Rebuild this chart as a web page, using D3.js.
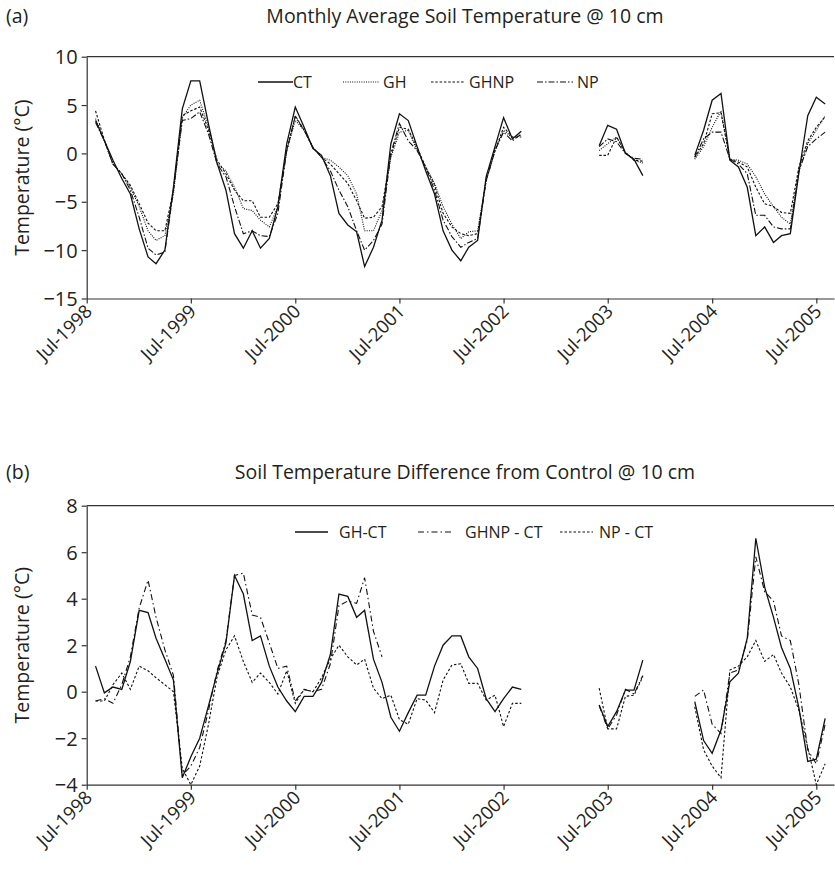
<!DOCTYPE html>
<html>
<head>
<meta charset="utf-8">
<script src="https://cdn.jsdelivr.net/npm/d3@7"></script>
<style>
body { margin: 0; background: #fff; }
text { font-family: "Open Sans", Lato, sans-serif; fill: #231f20; }
</style>
</head>
<body>
<svg id="chart" width="835" height="872"></svg>
<script>
var N = null;

// months Aug-1998 .. Aug-2005, null = no data
var months = d3.timeMonth.range(new Date(1998, 7, 1), new Date(2005, 8, 1));
var julys = d3.timeMonth.range(new Date(1998, 6, 1), new Date(2005, 7, 1), 12);

// (a) monthly average soil temperature
var ct = [3.4,1.3,-0.7,-2.6,-4.2,-7.8,-10.7,-11.4,-10.0,-3.5, 4.6,7.5,7.5,3.0,-1.0,-3.8,-8.3,-9.8,-8.0,-9.8,
  -8.8,-5.5,1.0,4.8,2.7,0.5,-0.2,-2.3,-6.2,-7.4, -8.1,-11.7,-9.7,-6.9,1.0,4.1,3.4,0.7,-1.8,-4.2,
  -8.0,-10.0,-11.1,-9.7,-9.0,-2.4,0.7,3.7,1.5,2.3, N,N,N,N,N,N,N,N,
  0.8,2.9,2.5,0.0,-0.6,-2.3, N,N,N,N,N,
  -0.2,2.4,5.5,6.2,-0.7,-1.4,-3.5,-8.5,-7.6,-9.2,-8.5,-8.3,-2.0,3.9,5.8,5.1];
var gh = [3.6,1.3,-1.1,-2.1,-3.5,-5.5,-8.0,-9.0,-8.5,-4.2, 3.7,5.0,5.5,2.7,-1.1,-1.8,-3.5,-5.7,-5.9,-6.9,
  -7.6,-5.5,0.3,3.4,2.4,0.6,-0.4,-0.7,-1.4,-2.3, -4.2,-8.0,-8.0,-5.9,-0.4,2.2,2.4,0.3,-1.4,-3.1,
  -5.5,-7.3,-8.8,-8.1,-8.0,-2.8,0.3,2.4,1.6,1.9, N,N,N,N,N,N,N,N,
  0.3,1.0,1.7,0.1,-0.7,-1.0, N,N,N,N,N,
  -0.6,0.7,2.7,4.4,-0.6,-0.7,-1.1,-2.4,-4.2,-5.5,-6.6,-7.3,-1.8,1.0,2.4,3.9];
var ghnp = [4.4,1.4,-1.1,-2.1,-3.3,-5.2,-7.2,-8.0,-8.0,-3.8, 3.9,4.4,4.8,2.4,-0.7,-2.1,-3.8,-4.9,-4.9,-6.6,
  -6.6,-5.2,0.3,3.9,2.4,0.6,-0.4,-1.1,-2.1,-3.1, -4.9,-6.7,-6.6,-5.5,-0.2,2.7,2.5,0.6,-1.4,-3.3,
  -6.2,-7.6,-8.3,-8.5,-8.3,-2.8,0.3,2.7,1.7,1.7, N,N,N,N,N,N,N,N,
  -0.2,-0.2,1.7,0.1,-0.7,-0.8, N,N,N,N,N,
  -0.4,1.0,4.1,4.2,-0.6,-0.9,-1.4,-3.5,-5.2,-5.5,-6.1,-6.2,-1.4,1.3,2.7,3.8];
var np = [3.2,1.3,-1.1,-2.1,-3.8,-6.6,-9.8,-10.5,-10.2,-3.8, 3.4,3.6,4.3,2.0,-1.1,-2.4,-5.5,-8.3,-8.0,-8.5,
  -8.6,-6.2,0.3,3.8,2.4,0.6,-0.4,-1.8,-3.8,-5.5, -8.0,-10.0,-9.0,-7.3,0.0,3.1,1.3,0.3,-1.4,-3.8,
  -6.9,-8.6,-9.7,-9.2,-8.8,-2.8,0.3,2.2,1.3,2.0, N,N,N,N,N,N,N,N,
  0.7,1.5,1.2,0.0,-0.5,-0.6, N,N,N,N,N,
  -0.4,1.5,2.2,2.2,-0.6,-1.1,-2.1,-6.4,-6.4,-7.6,-7.8,-7.8,-1.8,0.7,1.5,2.2];

// (b) differences from control
var ghCt = [1.1,-0.05,0.2,0.1,1.3,3.5,3.4,2.3,1.4,0.5, -3.7,-2.8,-2.0,-0.6,0.8,2.1,5.0,4.2,2.2,2.4,
  1.1,0.2,-0.4,-0.86,-0.2,-0.2,0.4,1.6,4.2,4.1, 3.2,3.5,1.4,0.4,-1.1,-1.7,-0.9,-0.15,-0.15,1.1,
  2.0,2.4,2.4,1.5,1.0,-0.3,-0.86,-0.3,0.2,0.1, N,N,N,N,N,N,N,N,
  -0.57,-1.5,-0.86,0.07,0.07,1.36, N,N,N,N,N,
  -0.43,-2.1,-2.65,-1.65,0.43,0.8,2.3,6.6,4.5,3.2,1.9,1.0,-0.7,-3.0,-2.9,-1.15];
var ghnpCt = [-0.4,-0.3,-0.5,0.3,1.5,3.6,4.8,3.2,1.8,0.7, -3.6,-3.2,-2.4,-0.8,0.9,2.2,5.0,5.1,3.3,3.2,
  2.1,1.0,1.1,-0.4,0.1,0.0,0.1,1.2,3.7,3.9, 3.8,4.9,2.6,1.5,N,N,N,N,N,N,
  N,N,N,N,N,N,N,N,N,N, N,N,N,N,N,N,N,N,
  -0.6,-1.6,-1.0,0.1,-0.1,0.7, N,N,N,N,N,
  -0.2,0.07,-1.4,-1.8,0.8,0.93,2.2,5.8,4.3,3.9,2.4,2.2,0.3,-2.5,-3.1,-1.4];
var npCt = [-0.4,-0.4,0.3,0.8,0.1,1.1,0.9,0.6,0.3,0.0, -3.3,-4.0,-3.2,-1.4,0.65,1.8,2.4,1.3,0.4,0.8,
  0.4,-0.1,0.9,-0.5,0.1,0.0,0.6,1.4,2.0,1.5, 1.15,1.4,0.15,-0.3,-0.15,-1.2,-1.4,-0.3,-0.36,-0.9,
  0.5,1.15,1.2,0.36,0.36,-0.36,-0.15,-1.5,-0.5,-0.5, N,N,N,N,N,N,N,N,
  0.15,-1.6,-1.6,-0.2,-0.15,0.65, N,N,N,N,N,
  -0.65,-2.5,-3.2,-3.7,0.93,1.1,1.5,2.2,1.3,1.6,0.8,0.2,-0.8,-2.4,-4.0,-3.1];

var svg = d3.select("#chart");
var left = 86.7, right = 834;

var x = d3.scaleTime()
    .domain([new Date(1998, 6, 1), new Date(2005, 8, 1)])
    .range([left, right]);

function fmtNum(d) { return d < 0 ? "\u2212" + Math.abs(d) : "" + d; }

function drawPanel(p) {
    var y = d3.scaleLinear().domain(p.domain).range([p.bottom, p.top]);
    var g = svg.append("g");

    g.append("text").attr("x", 6).attr("y", p.titleY).style("font-size", "19.5px").text(p.tag);
    g.append("text").attr("x", 465).attr("y", p.titleY).attr("text-anchor", "middle")
        .style("font-size", "19.5px").text(p.title);

    // top border
    g.append("line").attr("x1", left).attr("x2", right).attr("y1", p.top).attr("y2", p.top)
        .attr("stroke", "#333").attr("stroke-width", 1.2);

    var yAxis = g.append("g").attr("transform", "translate(" + left + ",0)")
        .call(d3.axisLeft(y).tickValues(p.ticks).tickSize(5).tickSizeOuter(0).tickFormat(fmtNum));
    yAxis.selectAll("text").style("font-size", "20px").attr("x", -9).attr("dy", "0.36em");

    var xAxis = g.append("g").attr("transform", "translate(0," + p.bottom + ")")
        .call(d3.axisBottom(x).tickValues(julys).tickSize(5).tickSizeOuter(0)
            .tickFormat(d3.timeFormat("%b-%Y")));
    xAxis.selectAll("text")
        .style("font-size", "18.5px")
        .attr("text-anchor", "end")
        .attr("y", 0)
        .attr("dy", 0)
        .attr("transform", "translate(6,14) rotate(-45)");

    g.selectAll(".domain, .tick line").attr("stroke", "#333").attr("stroke-width", 1.2);

    g.append("text")
        .attr("transform", "translate(" + 29 + "," + ((p.top + p.bottom) / 2) + ") rotate(-90)")
        .attr("text-anchor", "middle")
        .style("font-size", "19.5px")
        .text("Temperature (\u00b0C)");

    var line = d3.line()
        .defined(function (d) { return d != null; })
        .x(function (d, i) { return x(months[i]); })
        .y(function (d) { return y(d); });

    p.series.forEach(function (s) {
        g.append("path")
            .attr("d", line(s.values))
            .attr("fill", "none")
            .attr("stroke", "#111")
            .attr("stroke-width", s.width || 1.1)
            .attr("stroke-dasharray", s.dash);
    });

    // legend
    p.series.forEach(function (s) {
        g.append("line")
            .attr("x1", s.lx).attr("x2", s.lx + s.lw).attr("y1", p.legendY).attr("y2", p.legendY)
            .attr("stroke", "#111").attr("stroke-width", s.width || 1.1)
            .attr("stroke-dasharray", s.dash);
        g.append("text").attr("x", s.tx).attr("y", p.legendY).attr("dy", "0.36em")
            .style("font-size", "16px").text(s.name);
    });
}

drawPanel({
    tag: "(a)", title: "Monthly Average Soil Temperature @ 10 cm", titleY: 23,
    top: 56.7, bottom: 298.5, domain: [-15, 10], ticks: [-15, -10, -5, 0, 5, 10],
    legendY: 82,
    series: [
        { name: "CT", values: ct, dash: null, width: 1.3, lx: 258, lw: 35, tx: 293 },
        { name: "GH", values: gh, dash: "1,1.3", lx: 343, lw: 36, tx: 383 },
        { name: "GHNP", values: ghnp, dash: "2.5,1.8", lx: 431, lw: 34, tx: 469 },
        { name: "NP", values: np, dash: "6,2,1.5,2", lx: 537, lw: 36, tx: 577 }
    ]
});

drawPanel({
    tag: "(b)", title: "Soil Temperature Difference from Control @ 10 cm", titleY: 479,
    top: 505.7, bottom: 784.7, domain: [-4, 8], ticks: [-4, -2, 0, 2, 4, 6, 8],
    legendY: 532,
    series: [
        { name: "GH-CT", values: ghCt, dash: null, width: 1.3, lx: 295, lw: 33, tx: 339 },
        { name: "GHNP - CT", values: ghnpCt, dash: "6,3,1.5,3", lx: 418, lw: 36, tx: 465 },
        { name: "NP - CT", values: npCt, dash: "2.5,2", lx: 560, lw: 33, tx: 599 }
    ]
});
</script>
</body>
</html>
